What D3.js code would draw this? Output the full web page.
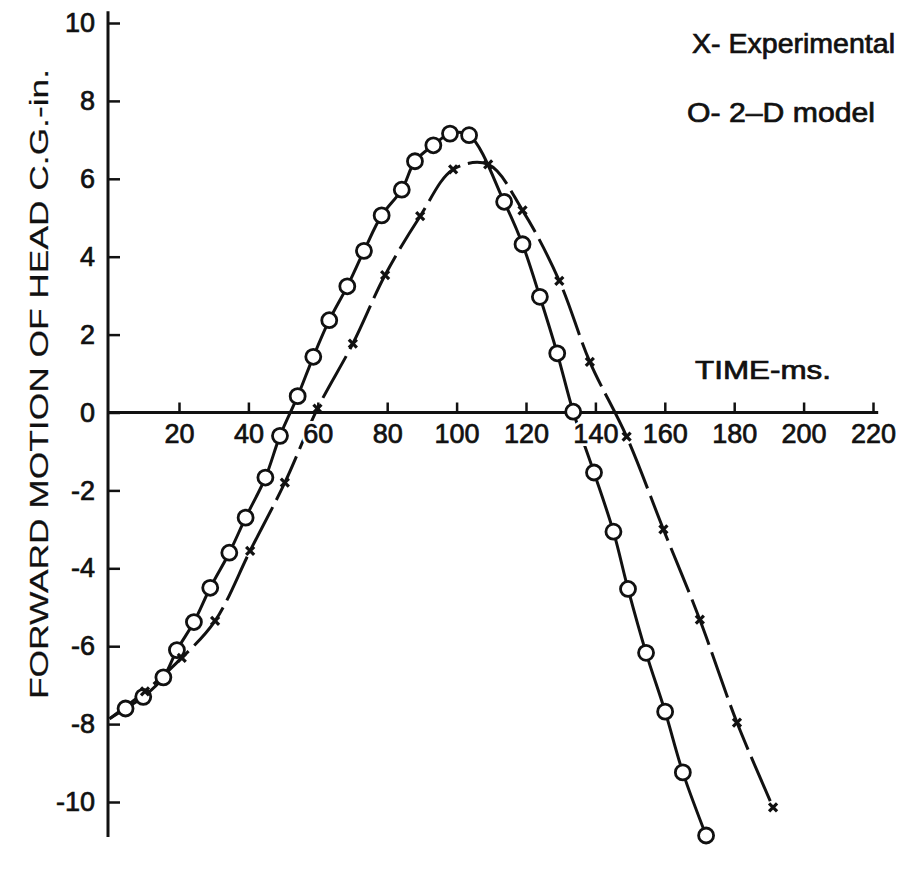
<!DOCTYPE html>
<html>
<head>
<meta charset="utf-8">
<script src="https://cdn.jsdelivr.net/npm/d3@7"></script>
<style>
  body { margin: 0; background: #fff; }
  svg { display: block; font-family: "Liberation Sans", Arial, sans-serif; }
</style>
</head>
<body>
<svg id="chart" width="907" height="872"></svg>
<script>
// time (ms) and forward motion (in.)
const modelTime = [0, 4.6, 9.7, 15.5, 19.4, 24.3, 29.0, 34.5, 39.2, 44.9, 49.1, 54.2, 58.7, 63.3, 68.5, 73.3, 78.4,
  84.2, 88.0, 93.3, 98.1, 103.6, 113.7, 119.0, 124.0, 129.0, 133.6, 139.6, 145.2, 149.4, 154.6, 160.1, 165.2, 171.9];
const modelMotion = [-7.86, -7.6, -7.3, -6.8, -6.1, -5.38, -4.5, -3.6, -2.7, -1.67, -0.6, 0.42, 1.43, 2.37, 3.24, 4.15, 5.06,
  5.72, 6.45, 6.86, 7.16, 7.12, 5.41, 4.32, 2.97, 1.52, 0.02, -1.54, -3.06, -4.53, -6.17, -7.68, -9.24, -10.86];

const expTime = [0, 10.2, 20.8, 30.4, 40.5, 50.5, 59.9, 70.1, 79.4, 89.5, 99.0, 109.1, 119.0, 129.6, 138.4,
  149.0, 159.6, 170.1, 180.8, 191.2];
const expMotion = [-7.86, -7.16, -6.3, -5.35, -3.55, -1.80, 0.1, 1.77, 3.53, 5.04, 6.24, 6.37, 5.19, 3.38, 1.30,
  -0.62, -3.0, -5.32, -7.96, -10.14];

const xTicks = [20, 40, 60, 80, 100, 120, 140, 160, 180, 200, 220];
const yTicks = [-10, -8, -6, -4, -2, 0, 2, 4, 6, 8, 10];

const ink = "#111";
const svg = d3.select("#chart");

const x = d3.scaleLinear().domain([0, 220]).range([109.6, 873]);
const y = d3.scaleLinear().domain([-10, 10]).range([802, 23]);

const model = modelTime.map((t, i) => ({t: t, v: modelMotion[i]}));
const exp = expTime.map((t, i) => ({t: t, v: expMotion[i]}));

// axes
const xAxisG = svg.append("g")
    .attr("transform", "translate(0," + y(0) + ")")
    .call(d3.axisBottom(x).tickValues(xTicks).tickSizeInner(-10).tickSizeOuter(0).tickPadding(11)
      .tickFormat(d => String(d)));
xAxisG.select(".domain").remove();
xAxisG.selectAll(".tick line").attr("stroke", ink).attr("stroke-width", 2.5);

const yAxisG = svg.append("g")
    .attr("transform", "translate(108,0)")
    .call(d3.axisLeft(y).tickValues(yTicks).tickSizeInner(-12).tickSizeOuter(0).tickPadding(13)
      .tickFormat(d => String(d)));
yAxisG.select(".domain").remove();
yAxisG.selectAll(".tick line").attr("stroke", ink).attr("stroke-width", 2.5);

svg.append("line")
    .attr("x1", 108).attr("x2", 108)
    .attr("y1", y(10.3)).attr("y2", y(-10.9))
    .attr("stroke", ink).attr("stroke-width", 3);
svg.append("line")
    .attr("x1", 108).attr("x2", x(221.5))
    .attr("y1", y(0)).attr("y2", y(0))
    .attr("stroke", ink).attr("stroke-width", 3);

// curves
const line = d3.line().x(d => x(d.t)).y(d => y(d.v)).curve(d3.curveCatmullRom.alpha(0.5));

svg.append("path")
    .datum(model)
    .attr("d", line)
    .attr("fill", "none").attr("stroke", ink).attr("stroke-width", 3);

svg.append("path")
    .datum(exp)
    .attr("d", line)
    .attr("fill", "none").attr("stroke", ink).attr("stroke-width", 3)
    .attr("stroke-dasharray", "48,8");

// markers
svg.append("g").selectAll("circle")
    .data(model.slice(1))
    .enter()
    .append("circle")
    .attr("cx", d => x(d.t))
    .attr("cy", d => y(d.v))
    .attr("r", 7.5)
    .attr("fill", "#fff")
    .attr("stroke", ink)
    .attr("stroke-width", 2.8);

svg.append("g").selectAll("path")
    .data(exp.slice(1))
    .enter()
    .append("path")
    .attr("transform", d => "translate(" + x(d.t) + "," + y(d.v) + ")")
    .attr("d", "M-4,-4L4,4M-4,4L4,-4")
    .attr("stroke", ink)
    .attr("stroke-width", 3.2);

// tick labels on top; a white copy behind each one breaks the curves around it
svg.selectAll(".tick text").each(function() {
    d3.select(this)
        .attr("font-size", 27)
        .attr("fill", ink)
        .attr("stroke", ink).attr("stroke-width", 0.7)
        .attr("font-family", "\"Liberation Sans\", Arial, sans-serif");
    const halo = this.cloneNode(true);
    this.parentNode.insertBefore(halo, this);
    d3.select(halo).attr("fill", "#fff").attr("stroke", "#fff").attr("stroke-width", 6);
});
xAxisG.raise();
yAxisG.raise();

// titles
svg.append("text")
    .attr("transform", "translate(48,384) rotate(-90)")
    .attr("text-anchor", "middle")
    .attr("font-size", 26)
    .attr("textLength", 630)
    .attr("lengthAdjust", "spacingAndGlyphs")
    .attr("fill", ink)
    .attr("stroke", ink).attr("stroke-width", 0.2)
    .text("FORWARD MOTION OF HEAD C.G.-in.");

svg.append("text")
    .attr("x", 695).attr("y", 379)
    .attr("font-size", 25)
    .attr("textLength", 136)
    .attr("lengthAdjust", "spacingAndGlyphs")
    .attr("fill", ink)
    .attr("stroke", ink).attr("stroke-width", 0.7)
    .text("TIME-ms.");

svg.append("text")
    .attr("x", 692).attr("y", 53)
    .attr("font-size", 27)
    .attr("textLength", 203)
    .attr("lengthAdjust", "spacingAndGlyphs")
    .attr("fill", ink)
    .attr("stroke", ink).attr("stroke-width", 0.7)
    .text("X- Experimental");

svg.append("text")
    .attr("x", 687).attr("y", 122)
    .attr("font-size", 27)
    .attr("textLength", 188)
    .attr("lengthAdjust", "spacingAndGlyphs")
    .attr("fill", ink)
    .attr("stroke", ink).attr("stroke-width", 0.7)
    .text("O- 2\u2013D model");
</script>
</body>
</html>
